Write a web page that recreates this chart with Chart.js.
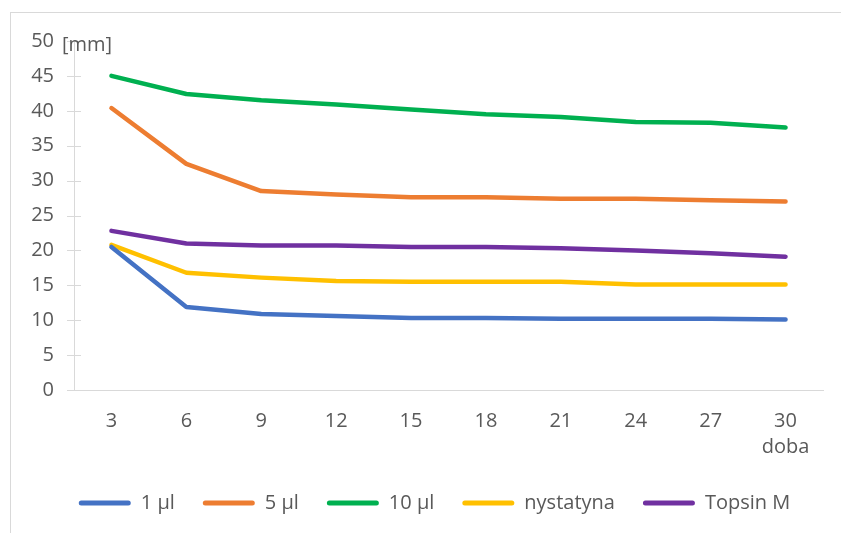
<!DOCTYPE html>
<html>
<head>
<meta charset="utf-8">
<script src="https://cdn.jsdelivr.net/npm/chart.js@4/dist/chart.umd.min.js"></script>
<style>
  body { margin: 0; background: #fff; }
  #wrap { position: relative; width: 841px; height: 533px; }
  #frame {
    position: absolute; left: 10px; top: 12px; right: 0; bottom: 0;
    border-left: 1px solid #d9d9d9; border-top: 1px solid #d9d9d9;
    pointer-events: none;
  }
</style>
</head>
<body>
<div id="wrap">
  <canvas id="chart" width="841" height="533"></canvas>
  <div id="frame"></div>
</div>
<script>
// data
const days = ['3', '6', '9', '12', '15', '18', '21', '24', '27', '30'];
const dose1 = [20.5, 11.9, 10.9, 10.6, 10.3, 10.3, 10.2, 10.2, 10.2, 10.1];
const dose5 = [40.4, 32.4, 28.5, 28.0, 27.6, 27.6, 27.4, 27.4, 27.2, 27.0];
const dose10 = [45.0, 42.4, 41.5, 40.9, 40.2, 39.5, 39.1, 38.4, 38.3, 37.6];
const nystatyna = [20.8, 16.8, 16.1, 15.6, 15.5, 15.5, 15.5, 15.1, 15.1, 15.1];
const topsin = [22.8, 21.0, 20.7, 20.7, 20.5, 20.5, 20.3, 20.0, 19.6, 19.1];
const yTicks = [0, 5, 10, 15, 20, 25, 30, 35, 40, 45, 50];

const textColor = '#595959';
const lineGray = '#d9d9d9';
const fontFamily = '"Open Sans", "Liberation Sans", sans-serif';

function series(label, data, color) {
    return {
        label: label,
        data: data,
        borderColor: color,
        backgroundColor: color,
        borderWidth: 4.5,
        borderCapStyle: 'round',
        borderJoinStyle: 'round',
        pointRadius: 0,
        tension: 0
    };
}

// extra bits: tick marks crossing the y axis, unit label and x axis name
const extras = {
    id: 'extras',
    afterLayout(chart) {
        // legend in the reference sits a bit right of centre
        chart.legend.left += 18;
        chart.legend.right += 18;
    },
    afterDraw(chart) {
        const c = chart.ctx;
        const y = chart.scales.y;
        const x = chart.scales.x;
        c.save();
        c.strokeStyle = lineGray;
        c.lineWidth = 1;
        yTicks.forEach(v => {
            const py = Math.round(y.getPixelForValue(v)) + 0.5;
            c.beginPath();
            c.moveTo(y.right - 7, py);
            c.lineTo(y.right + 7, py);
            c.stroke();
        });
        c.fillStyle = textColor;
        c.font = '20px ' + fontFamily;
        c.textBaseline = 'middle';
        c.textAlign = 'left';
        c.fillText('[mm]', 62, y.getPixelForValue(50) + 4);
        c.textAlign = 'center';
        c.fillText('doba', x.getPixelForValue(9), 447);
        c.restore();
    }
};

new Chart(document.getElementById('chart'), {
    type: 'line',
    data: {
        labels: days,
        datasets: [
            series('1 µl', dose1, '#4472C4'),
            series('5 µl', dose5, '#ED7D31'),
            series('10 µl', dose10, '#00B050'),
            series('nystatyna', nystatyna, '#FFC000'),
            series('Topsin M', topsin, '#7030A0')
        ]
    },
    options: {
        responsive: false,
        animation: false,
        layout: { padding: { left: 10, right: 18, top: 41, bottom: 10 } },
        scales: {
            x: {
                offset: true,
                grid: { display: false, drawTicks: false },
                border: { color: lineGray, width: 1 },
                ticks: { color: textColor, font: { family: fontFamily, size: 20 }, padding: 19, maxRotation: 0 },
                afterFit(scale) { scale.height = 75; }
            },
            y: {
                min: 0,
                max: 50,
                afterBuildTicks(scale) { scale.ticks = yTicks.map(v => ({ value: v })); },
                grid: { display: false, drawTicks: false },
                border: { color: lineGray, width: 1 },
                ticks: { color: textColor, font: { family: fontFamily, size: 20 }, padding: 20 },
                afterFit(scale) { scale.width = 64; }
            }
        },
        plugins: {
            tooltip: { enabled: false },
            legend: {
                position: 'bottom',
                labels: {
                    color: textColor,
                    font: { family: fontFamily, size: 20 },
                    boxWidth: 52,
                    boxHeight: 5,
                    padding: 28,
                    useBorderRadius: true,
                    borderRadius: 2.5,
                    generateLabels(chart) {
                        return Chart.defaults.plugins.legend.labels.generateLabels(chart).map(item => {
                            item.lineWidth = 0;
                            item.fillStyle = chart.data.datasets[item.datasetIndex].borderColor;
                            return item;
                        });
                    }
                }
            }
        }
    },
    plugins: [extras]
});
</script>
</body>
</html>
